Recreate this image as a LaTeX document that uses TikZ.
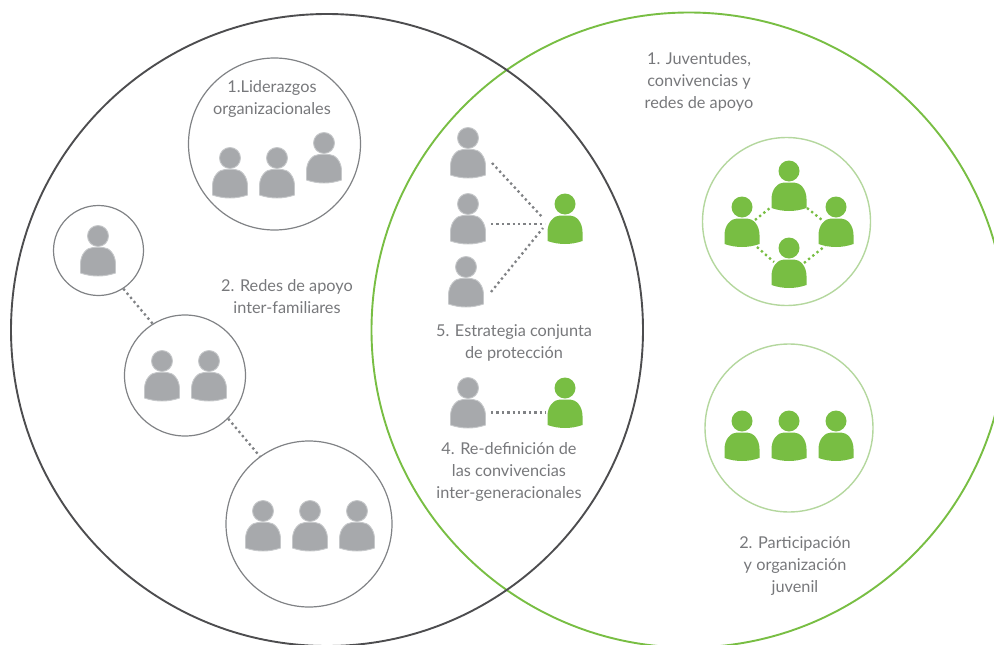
\documentclass[tikz,border=0pt]{standalone}
\usepackage{fontspec}
\setmainfont{Lato}
\definecolor{darkring}{HTML}{4D4D4F}
\definecolor{leaf}{HTML}{78BE43}
\definecolor{leafpale}{HTML}{B4D79E}
\definecolor{ashring}{HTML}{808285}
\definecolor{ash}{HTML}{A7A9AC}
\definecolor{ashpale}{HTML}{C6C8CA}
\definecolor{inktext}{HTML}{77787B}
\tikzset{
	bigring/.style={circle, draw, line width=1.9pt, inner sep=0pt},
	smallring/.style={circle, draw=ashring, line width=1.2pt, inner sep=0pt},
	leafring/.style={circle, draw=leafpale, line width=1.4pt, inner sep=0pt},
	caption/.style={align=center, text=inktext, font=\fontsize{16.3}{22}\selectfont},
	dotline/.style={draw=ashring, line width=2.3pt, dash pattern=on 2.3pt off 3.1pt},
	leafdots/.style={draw=leaf, line width=2.3pt, dash pattern=on 2.3pt off 3.1pt},
	pics/person/.style={code={
		\fill[#1] (0,0) circle (10.5);
		\fill[#1] (-17.5,37) -- (-17.5,28) .. controls (-17.5,18) and (-11,11.5) .. (-5,11.5)
			-- (5,11.5) .. controls (11,11.5) and (17.5,18) .. (17.5,28) -- (17.5,37)
			.. controls (6,41) and (-6,41) .. cycle;
	}},
	pics/ashperson/.style={code={\pic {person={ash, draw=ashpale, line width=0.9pt}};}},
	pics/leafperson/.style={code={\pic {person={leaf}};}},
}

\begin{document}
\begin{tikzpicture}[x=1pt, y=-1pt]
	\useasboundingbox (0,0) rectangle (994,645);
	\clip (0,0) rectangle (994,645);

	%the two large circles
	\node[bigring, draw=leaf, minimum size=635pt] (youth) at (689,330) {};
	\node[bigring, draw=darkring, minimum size=632pt] (family) at (327,330) {};

	%left side, grey circles
	\node[smallring, minimum size=172pt] (leaders) at (274.5,144) {};
	\node[smallring, minimum size=90pt] (single) at (98.5,250.5) {};
	\node[smallring, minimum size=121pt] (couple) at (185,375.5) {};
	\node[smallring, minimum size=166pt] (group) at (309,524) {};
	\draw[dotline] (single.-57) -- (couple.122);
	\draw[dotline] (couple.-45) -- (group.126);

	%right side, green circles
	\node[leafring, minimum size=168pt] (circleyouth) at (786.5,221.5) {};
	\node[leafring, minimum size=168pt] (circleorg) at (789,428) {};

	%labels
	\node[caption] (lblleaders) at (272,99) {1.Liderazgos\\organizacionales};
	\node[caption] (lblnets) at (287,297) {2. Redes de apoyo\\inter-familiares};
	\node[caption] (lblyouth) at (699,82) {1. Juventudes,\\convivencias y\\redes de apoyo};
	\node[caption] (lblplan) at (514,343) {5. Estrategia conjunta\\de protección};
	\node[caption] (lblredef) at (509,472) {4. Re-definición de\\las convivencias\\inter-generacionales};
	\node[caption] (lblpart) at (795,566) {2. Participación\\y organización\\juvenil};

	%grey people
	\foreach \px/\py in {230/158, 277/158, 324/143, 98/236, 162/361, 209/361, 263/511, 310/511, 357/511, 468/138, 468/204, 466/267, 468/388}
		\pic at (\px,\py) {ashperson};
	%green people
	\foreach \px/\py in {565/204, 565/388, 789/171, 742/207, 836/207, 789/248, 742/421, 789/421, 836/421}
		\pic at (\px,\py) {leafperson};

	%dotted links in the overlap
	\coordinate (topfrom) at (492,163);
	\coordinate (midfrom) at (491,224);
	\coordinate (lowfrom) at (491,292);
	\coordinate (topto) at (543,218);
	\coordinate (midto) at (545,224);
	\coordinate (lowto) at (543,228);
	\coordinate (redeffrom) at (491,412.5);
	\coordinate (redefto) at (546,412.5);
	\draw[dotline] (topfrom) -- (topto);
	\draw[dotline] (midfrom) -- (midto);
	\draw[dotline] (lowfrom) -- (lowto);
	\draw[dotline] (redeffrom) -- (redefto);

	%dotted links between the green people
	\coordinate (ringwa) at (755,220);
	\coordinate (ringna) at (770,208);
	\coordinate (ringnb) at (807,208);
	\coordinate (ringea) at (822,220);
	\coordinate (ringwb) at (757,247);
	\coordinate (ringsa) at (774,262);
	\coordinate (ringsb) at (804,263);
	\coordinate (ringeb) at (825,246);
	\draw[leafdots] (ringwa) -- (ringna);
	\draw[leafdots] (ringnb) -- (ringea);
	\draw[leafdots] (ringwb) -- (ringsa);
	\draw[leafdots] (ringsb) -- (ringeb);
\end{tikzpicture}
\end{document}
